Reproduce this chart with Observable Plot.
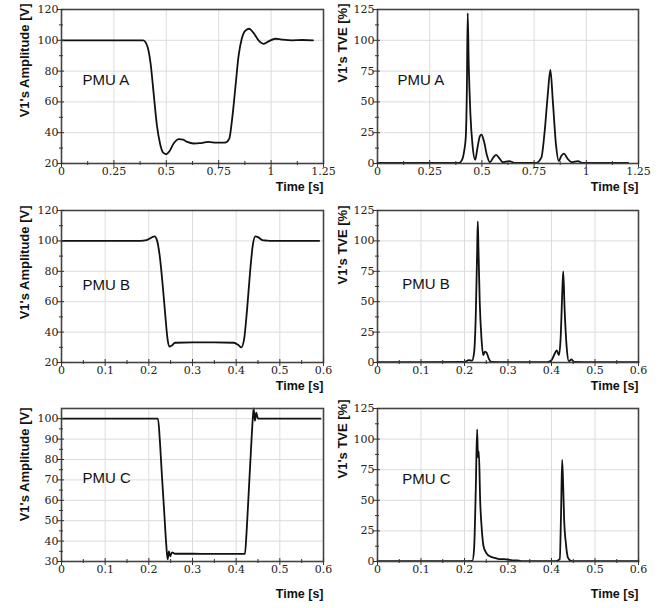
<!DOCTYPE html>
<html>
<head>
<meta charset="utf-8">
<script src="https://cdn.jsdelivr.net/npm/d3@7"></script>
<script src="https://cdn.jsdelivr.net/npm/@observablehq/plot@0.6"></script>
<style>
  html, body { margin: 0; padding: 0; background: #fff; }
  #wrap { position: relative; width: 668px; height: 608px; overflow: hidden; background: #fff; }
  .cell { position: absolute; }
  .cell svg { overflow: visible; display: block; }
  .cell.left { z-index: 2; }
  .cell.right { z-index: 1; }
</style>
</head>
<body>
<div id="wrap"></div>
<script>
// ---------- tick labels ----------
const xTicksA = [0, 0.25, 0.5, 0.75, 1, 1.25];
const xTicksBC = [0, 0.1, 0.2, 0.3, 0.4, 0.5, 0.6];
const yTicksAmpAB = [20, 40, 60, 80, 100, 120];
const yTicksAmpC = [30, 40, 50, 60, 70, 80, 90, 100];
const yTicksTVE = [0, 25, 50, 75, 100, 125];

// ---------- PMU A amplitude ----------
const ampA_t = [0, 0.1, 0.2, 0.3, 0.39, 0.41, 0.425, 0.44, 0.455, 0.47, 0.485, 0.5, 0.515, 0.535, 0.56, 0.58, 0.6, 0.63, 0.66, 0.7, 0.74, 0.78, 0.8, 0.815, 0.83, 0.845, 0.86, 0.875, 0.895, 0.915, 0.94, 0.965, 0.99, 1.02, 1.05, 1.1, 1.15, 1.2];
const ampA_v = [100, 100, 100, 100, 100, 96, 85, 65, 45, 33, 27, 26, 28, 33, 35.8, 35.5, 34, 33, 33.2, 34, 33.5, 33.5, 36, 50, 70, 90, 101, 106, 107.5, 105, 100, 97.7, 99.5, 101, 100.5, 100, 100.2, 100];

// ---------- PMU A TVE ----------
const tveA_t = [0, 0.1, 0.2, 0.3, 0.39, 0.405, 0.415, 0.423, 0.428, 0.432, 0.437, 0.445, 0.455, 0.468, 0.478, 0.49, 0.498, 0.51, 0.525, 0.538, 0.555, 0.568, 0.585, 0.6, 0.63, 0.66, 0.7, 0.76, 0.785, 0.8, 0.815, 0.828, 0.84, 0.855, 0.868, 0.88, 0.893, 0.91, 0.93, 0.96, 0.98, 1.1, 1.2];
const tveA_v = [0.5, 0.5, 0.5, 0.5, 0.5, 3, 10, 22, 60, 122, 80, 40, 15, 3, 12, 22, 23.5, 18, 6, 1, 5, 7, 4, 1, 2, 0.5, 0.5, 0.5, 5, 25, 55, 76, 50, 15, 2, 6, 8, 4, 1, 2, 0.5, 0.5, 0.5];

// ---------- PMU B amplitude ----------
const ampB_t = [0, 0.1, 0.18, 0.195, 0.205, 0.213, 0.218, 0.225, 0.232, 0.238, 0.243, 0.247, 0.252, 0.26, 0.3, 0.35, 0.395, 0.405, 0.412, 0.418, 0.425, 0.432, 0.438, 0.444, 0.45, 0.46, 0.47, 0.48, 0.59];
const ampB_v = [100, 100, 100, 100.5, 102, 103, 101, 90, 70, 50, 35, 30.5, 31, 33, 33.3, 33.3, 33, 31.5, 30, 35, 55, 80, 97, 103, 102.5, 100.5, 100.2, 100, 100];

// ---------- PMU B TVE ----------
const tveB_t = [0, 0.1, 0.2, 0.21, 0.217, 0.222, 0.226, 0.229, 0.2305, 0.232, 0.235, 0.239, 0.243, 0.247, 0.251, 0.256, 0.262, 0.3, 0.39, 0.4, 0.407, 0.412, 0.417, 0.421, 0.425, 0.427, 0.43, 0.435, 0.44, 0.446, 0.452, 0.5, 0.6];
const tveB_v = [0.3, 0.3, 0.5, 2, 1.5, 8, 40, 90, 116, 95, 50, 20, 6, 9, 8, 3, 0.5, 0.3, 0.3, 2, 7, 10, 6, 20, 60, 75, 45, 12, 1, 2.5, 0.5, 0.3, 0.3];

// ---------- PMU C amplitude ----------
const ampC_t = [0, 0.1, 0.221, 0.225, 0.23, 0.235, 0.24, 0.243, 0.246, 0.249, 0.253, 0.26, 0.3, 0.35, 0.42, 0.424, 0.429, 0.434, 0.438, 0.44, 0.443, 0.446, 0.45, 0.5, 0.593];
const ampC_v = [100, 100, 100, 90, 72, 55, 38, 31, 35, 32.5, 34.5, 33.8, 33.8, 33.7, 33.7, 45, 65, 85, 100, 105, 99, 103, 100, 100, 100];

// ---------- PMU C TVE ----------
const tveC_t = [0, 0.1, 0.2, 0.218, 0.222, 0.226, 0.229, 0.231, 0.233, 0.236, 0.24, 0.244, 0.25, 0.26, 0.27, 0.28, 0.29, 0.3, 0.31, 0.32, 0.33, 0.41, 0.419, 0.422, 0.4245, 0.427, 0.429, 0.433, 0.438, 0.445, 0.45, 0.5, 0.6];
const tveC_v = [0.3, 0.3, 0.3, 0.5, 10, 60, 108, 85, 90, 50, 25, 12, 7, 4, 3, 2, 2, 1.5, 1, 1, 0.3, 0.3, 2, 40, 83, 60, 35, 15, 3, 0.5, 0.3, 0.3, 0.3];

const ampLabel = "V1's Amplitude [V]";
const tveLabel = "V1's TVE [%]";
const names = ["PMU A", "PMU B", "PMU C"];

const sans = "Liberation Sans, Arial, sans-serif";
const serif = "DejaVu Serif, serif";

function mids(ticks) {
  return ticks.slice(1).map((d, i) => (d + ticks[i]) / 2);
}
const fmt = d => String(d);

function panel(o) {
  const data = o.t.map((d, i) => ({t: d, v: o.v[i]}));
  return Plot.plot({
    width: 334,
    height: o.height,
    marginLeft: o.ml, marginRight: o.mr, marginTop: o.mt, marginBottom: o.mb,
    x: {domain: o.xDomain},
    y: {domain: o.yDomain},
    style: {background: "transparent", fontFamily: serif, fontSize: "11px", color: "#222"},
    marks: [
      Plot.gridX(o.xTicks, {stroke: "#dcdcdc", strokeOpacity: 1}),
      Plot.gridY(o.yTicks, {stroke: "#dcdcdc", strokeOpacity: 1}),
      Plot.line(data, {x: "t", y: "v", stroke: "#111", strokeWidth: 1.8, curve: "monotone-x"}),
      Plot.frame({stroke: "#444", strokeWidth: 1.6}),
      Plot.axisX(mids(o.xTicks), {tickSize: 4, dy: -2, tickFormat: () => "", label: null, stroke: "#333"}),
      Plot.axisX(o.xTicks, {tickSize: 7, dy: -3, tickFormat: () => "", label: null, stroke: "#333"}),
      Plot.axisX(o.xTicks, {tickSize: 0, tickPadding: 4, tickFormat: fmt, label: null, fontFamily: serif, fontSize: 11, fill: "#222"}),
      Plot.axisY(mids(o.yTicks), {tickSize: 4, dx: 2, tickFormat: () => "", label: null, stroke: "#333"}),
      Plot.axisY(o.yTicks, {tickSize: 7, dx: 3, tickFormat: () => "", label: null, stroke: "#333"}),
      Plot.axisY(o.yTicks, {tickSize: 0, tickPadding: 3, tickFormat: fmt, label: null, fontFamily: serif, fontSize: 11, fill: "#222"}),
      Plot.text([o.ylabel], {text: d => d, frameAnchor: "top-left", rotate: -90, textAnchor: "end",
        dx: o.ldx, dy: o.ldy, fontFamily: sans, fontWeight: "bold", fontSize: 13, fill: "#111"}),
      Plot.text([o.name], {text: d => d, x: () => o.nameX, y: () => o.nameY, textAnchor: "start",
        fontFamily: sans, fontSize: 15, fill: "#111"}),
      Plot.text(["Time [s]"], {text: d => d, frameAnchor: "bottom-right", textAnchor: "end",
        dy: o.tdy, fontFamily: sans, fontWeight: "bold", fontSize: 12.5, fill: "#111"})
    ]
  });
}

const rows = [
  {top: 0, height: 196, mt: 9, mb: 33, tdy: 27},
  {top: 196, height: 202, mt: 14, mb: 36, tdy: 27},
  {top: 398, height: 210, mt: 10, mb: 47, tdy: 36}
];

const specs = [
  {row: 0, col: 0, t: ampA_t, v: ampA_v, xTicks: xTicksA, xDomain: [0, 1.25], yTicks: yTicksAmpAB, yDomain: [20, 120], ylabel: ampLabel, name: names[0], nameX: 0.1, nameY: 74, ldy: -6},
  {row: 0, col: 1, t: tveA_t, v: tveA_v, xTicks: xTicksA, xDomain: [0, 1.25], yTicks: yTicksTVE, yDomain: [0, 125], ylabel: tveLabel, name: names[0], nameX: 0.096, nameY: 68, ldy: -6},
  {row: 1, col: 0, t: ampB_t, v: ampB_v, xTicks: xTicksBC, xDomain: [0, 0.6], yTicks: yTicksAmpAB, yDomain: [20, 120], ylabel: ampLabel, name: names[1], nameX: 0.048, nameY: 71, ldy: -5},
  {row: 1, col: 1, t: tveB_t, v: tveB_v, xTicks: xTicksBC, xDomain: [0, 0.6], yTicks: yTicksTVE, yDomain: [0, 125], ylabel: tveLabel, name: names[1], nameX: 0.057, nameY: 64, ldy: -5},
  {row: 2, col: 0, t: ampC_t, v: ampC_v, xTicks: xTicksBC, xDomain: [0, 0.6], yTicks: yTicksAmpC, yDomain: [30, 105], ylabel: ampLabel, name: names[2], nameX: 0.048, nameY: 71, ldy: -1},
  {row: 2, col: 1, t: tveC_t, v: tveC_v, xTicks: xTicksBC, xDomain: [0, 0.6], yTicks: yTicksTVE, yDomain: [0, 125], ylabel: tveLabel, name: names[2], nameX: 0.057, nameY: 67, ldy: -9}
];

const wrap = document.getElementById("wrap");
for (const s of specs) {
  const r = rows[s.row];
  const colOpts = s.col === 0 ? {ml: 61, mr: 11, ldx: -42} : {ml: 43, mr: 30, ldx: -40};
  const svg = panel({...s, ...r, ...colOpts});
  const div = document.createElement("div");
  div.className = "cell " + (s.col === 0 ? "left" : "right");
  div.style.left = (s.col * 334) + "px";
  div.style.top = r.top + "px";
  div.appendChild(svg);
  wrap.appendChild(div);
}
</script>
</body>
</html>
